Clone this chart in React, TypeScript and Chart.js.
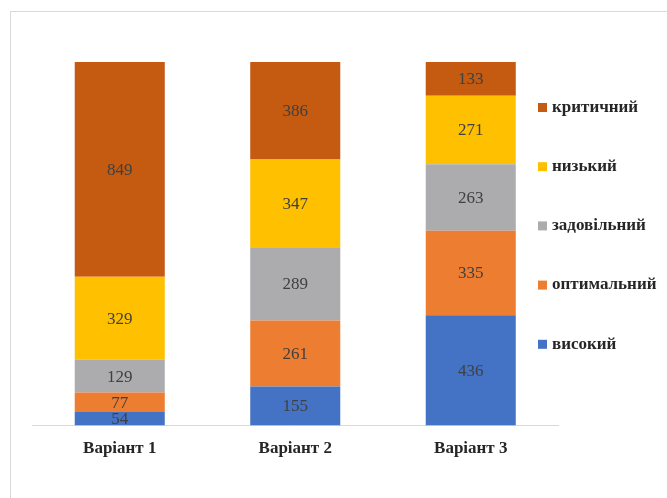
import React, { useEffect, useRef } from "react";
import { Chart, registerables } from "chart.js";

Chart.register(...registerables);

const categories = ["Варіант 1", "Варіант 2", "Варіант 3"];
const seriesNames = ["високий", "оптимальний", "задовільний", "низький", "критичний"];
const vysokyi = [54, 155, 436];
const optymalnyi = [77, 261, 335];
const zadovilnyi = [129, 289, 263];
const nyzkyi = [329, 347, 271];
const krytychnyi = [849, 386, 133];
const colors = ["#4472C4", "#ED7D31", "#ACACAF", "#FFC000", "#C55A11"];

const SERIF = "'Liberation Serif', 'Times New Roman', serif";

const valueLabels = {
  id: "valueLabels",
  afterDatasetsDraw(chart: any) {
    const ctx = chart.ctx;
    ctx.save();
    ctx.font = `17px ${SERIF}`;
    ctx.fillStyle = "#404040";
    ctx.textAlign = "center";
    ctx.textBaseline = "middle";
    chart.data.datasets.forEach((ds: any, i: number) => {
      const meta = chart.getDatasetMeta(i);
      meta.data.forEach((el: any, j: number) => {
        const v = ds.data[j];
        const cy = (el.y + el.base) / 2;
        ctx.fillText(String(v), el.x, cy + 1);
      });
    });
    ctx.restore();
  },
};

const sideLegend = {
  id: "sideLegend",
  afterDraw(chart: any) {
    const ctx = chart.ctx;
    const n = chart.data.datasets.length;
    const x0 = 538;
    const y0 = 107.5;
    const step = 59.2;
    ctx.save();
    ctx.font = `bold 17px ${SERIF}`;
    ctx.textAlign = "left";
    ctx.textBaseline = "middle";
    for (let k = 0; k < n; k++) {
      const ds = chart.data.datasets[n - 1 - k];
      const y = y0 + k * step;
      ctx.fillStyle = ds.backgroundColor;
      ctx.fillRect(x0, y - 4.5, 9, 9);
      ctx.fillStyle = "#262626";
      ctx.fillText(ds.label, x0 + 14, y);
    }
    ctx.restore();
  },
};

export default function App() {
  const ref = useRef<HTMLCanvasElement | null>(null);
  useEffect(() => {
    if (!ref.current) return;
    const series = [vysokyi, optymalnyi, zadovilnyi, nyzkyi, krytychnyi];
    const total = Math.max(
      ...categories.map((_, j) => series.reduce((s, arr) => s + arr[j], 0))
    );
    const chart = new Chart(ref.current, {
      type: "bar",
      data: {
        labels: categories,
        datasets: series.map((d, i) => ({
          label: seriesNames[i],
          data: d,
          backgroundColor: colors[i],
          borderWidth: 0,
          categoryPercentage: 1,
          barPercentage: 0.513,
        })),
      },
      options: {
        animation: false,
        responsive: false,
        devicePixelRatio: 1,
        layout: { padding: { left: 32, right: 108.5, top: 62, bottom: 26 } },
        plugins: { legend: { display: false }, tooltip: { enabled: false } },
        scales: {
          x: {
            stacked: true,
            grid: { display: false, drawTicks: false },
            border: { display: true, color: "#d9d9d9", width: 1 },
            ticks: {
              padding: 13,
              color: "#262626",
              font: { family: SERIF, size: 17, weight: "bold" },
            },
          },
          y: {
            stacked: true,
            display: false,
            min: 0,
            max: total,
          },
        },
      },
      plugins: [valueLabels, sideLegend],
    });
    return () => chart.destroy();
  }, []);

  return (
    <div style={{ position: "absolute", left: 0, top: 0, width: 667, height: 498, background: "#fff", overflow: "hidden" }}>
      <div
        style={{
          position: "absolute",
          left: 10,
          top: 11,
          width: 700,
          height: 600,
          borderLeft: "1px solid #d9d9d9",
          borderTop: "1px solid #d9d9d9",
        }}
      />
      <canvas ref={ref} width={667} height={498} style={{ position: "absolute", left: 0, top: 0, width: 667, height: 498 }} />
    </div>
  );
}
